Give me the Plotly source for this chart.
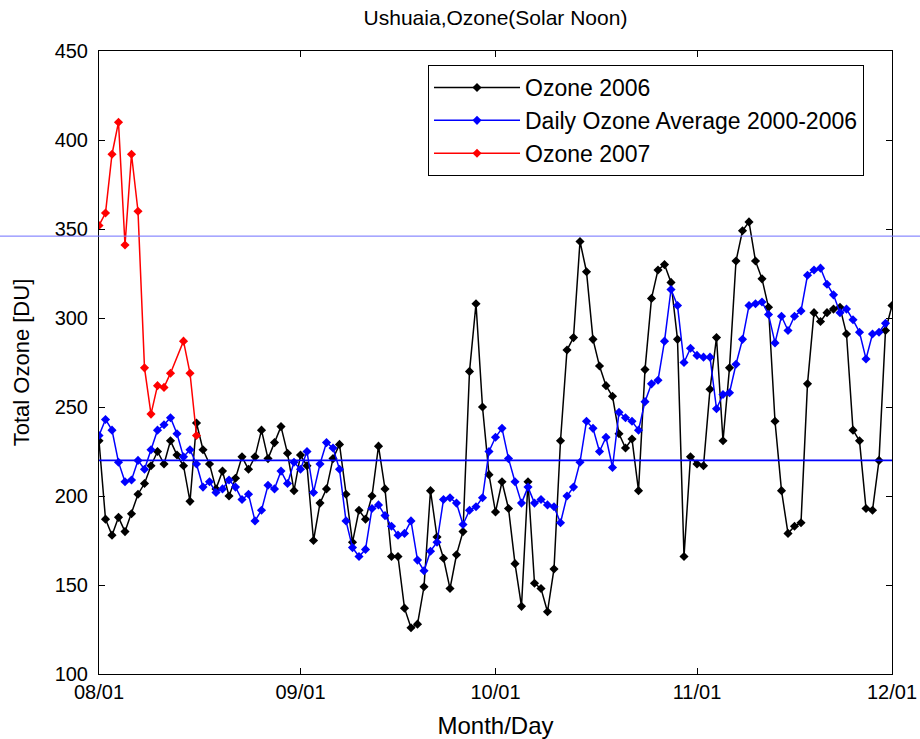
import pandas as pd
import plotly.graph_objects as go

# ---- data ----
start_date = "2006-08-01"
ozone_2006 = [231, 187, 178, 188, 180, 190, 201, 207, 217, 225,
              218, 231, 223, 217, 197, 241, 226, 218, 204, 214,
              200, 210, 222, 215, 222, 237, 221, 230, 239, 224,
              203, 223, 217, 175, 196, 204, 221, 229, 201, 174,
              192, 187, 200, 228, 204, 166, 166, 137, 126, 128,
              149, 203, 177, 165, 148, 167, 180, 270, 308, 250,
              212, 191, 208, 193, 162, 138, 208, 151, 148, 135,
              159, 231, 282, 289, 343, 326, 288, 273, 262, 256,
              235, 227, 232, 203, 271, 311, 327, 330, 320, 288,
              166, 222, 218, 217, 260, 289, 231, 272, 332, 349,
              354, 332, 322, 306, 242, 203, 179, 183, 185, 263,
              303, 298, 303, 305, 306, 291, 237, 231, 193, 192,
              220, 293, 307]
ozone_avg = [234, 243, 237, 219, 208, 209, 220, 215, 226, 237,
             240, 244, 235, 222, 226, 218, 205, 208, 202, 204,
             209, 205, 198, 201, 186, 192, 206, 204, 214, 207,
             219, 215, 225, 202, 218, 230, 227, 215, 186, 171,
             166, 170, 193, 195, 189, 183, 178, 179, 186, 164,
             158, 169, 174, 198, 199, 196, 184, 192, 194, 199,
             225, 233, 238, 221, 208, 196, 205, 196, 198, 195,
             194, 185, 200, 205, 219, 242, 238, 225, 233, 216,
             247, 244, 242, 237, 253, 263, 265, 287, 316, 307,
             275, 283, 279, 278, 278, 249, 257, 258, 274, 288,
             307, 308, 309, 302, 286, 301, 293, 301, 304, 324,
             327, 328, 319, 313, 303, 305, 299, 292, 277, 291,
             292, 297]
days_2007 = [0, 1, 2, 3, 4, 5, 6, 7, 8, 9, 10, 11, 13, 14, 15]
ozone_2007 = [352, 359, 392, 410, 341, 392, 360, 272, 246, 262,
              261, 269, 287, 269, 234]
ref_high = 346
ref_low = 220
x_tick_dates = ["2006-08-01", "2006-09-01", "2006-10-01", "2006-11-01", "2006-12-01"]
x_tick_text = ["08/01", "09/01", "10/01", "11/01", "12/01"]
y_ticks = [100, 150, 200, 250, 300, 350, 400, 450]

base = pd.Timestamp(start_date)
x2006 = [base + pd.Timedelta(days=i) for i in range(len(ozone_2006))]
xavg = [base + pd.Timedelta(days=i) for i in range(len(ozone_avg))]
x2007 = [base + pd.Timedelta(days=d) for d in days_2007]

FONT = "Liberation Sans, Arial, sans-serif"

fig = go.Figure()
fig.add_trace(go.Scatter(x=x2006, y=ozone_2006, mode="lines+markers", name="Ozone 2006",
                         legendgroup="a",
                         line=dict(color="black", width=1.5),
                         marker=dict(symbol="diamond", size=7, color="black")))
fig.add_trace(go.Scatter(x=xavg, y=ozone_avg, mode="lines+markers",
                         name="Daily Ozone Average 2000-2006", legendgroup="b",
                         line=dict(color="#0000ff", width=1.5),
                         marker=dict(symbol="diamond", size=7, color="#0000ff")))
fig.add_trace(go.Scatter(x=x2007, y=ozone_2007, mode="lines+markers", name="Ozone 2007",
                         legendgroup="c",
                         line=dict(color="#ff0000", width=1.5),
                         marker=dict(symbol="diamond", size=7, color="#ff0000")))

L, R, T, B = 99, 28, 51, 65
pw = 920 - L - R
ph = 739 - T - B
fig.add_shape(type="line", xref="paper", yref="y", x0=-L / pw, x1=(920 - L) / pw,
              y0=ref_high, y1=ref_high, line=dict(color="#6f6fff", width=1), layer="above")
fig.add_shape(type="line", xref="paper", yref="y", x0=0, x1=1,
              y0=ref_low, y1=ref_low, line=dict(color="#0000ff", width=1.8), layer="above")

fig.update_layout(
    width=920, height=739,
    margin=dict(l=L, r=R, t=T, b=B, autoexpand=False),
    paper_bgcolor="white", plot_bgcolor="white",
    font=dict(family=FONT, color="black", size=20),
    title=dict(text="Ushuaia,Ozone(Solar Noon)", x=(L + pw / 2) / 920, xanchor="center",
               y=1 - 18 / 739, yanchor="middle", font=dict(size=21)),
    showlegend=True,
    legend=dict(x=(428 - L) / pw, y=(739 - B - 65) / ph, xanchor="left", yanchor="top",
                bgcolor="white", bordercolor="black", borderwidth=1,
                font=dict(size=23), tracegroupgap=0, itemwidth=86),
    xaxis=dict(type="date", range=[x_tick_dates[0], x_tick_dates[-1]],
               tickvals=x_tick_dates, ticktext=x_tick_text, automargin=False,
               showgrid=False, zeroline=False, showline=True, linecolor="black", linewidth=1,
               mirror="ticks", ticks="inside", ticklen=6, tickcolor="black",
               title=dict(text="Month/Day", standoff=24)),
    yaxis=dict(range=[100, 450], tickvals=y_ticks, automargin=False,
               showgrid=False, zeroline=False, showline=True, linecolor="black", linewidth=1,
               mirror="ticks", ticks="inside", ticklen=6, tickcolor="black",
               ticklabelstandoff=6,
               title=dict(text="Total Ozone [DU]", standoff=18, font=dict(size=22))),
)

fig.write_html("out.html")
